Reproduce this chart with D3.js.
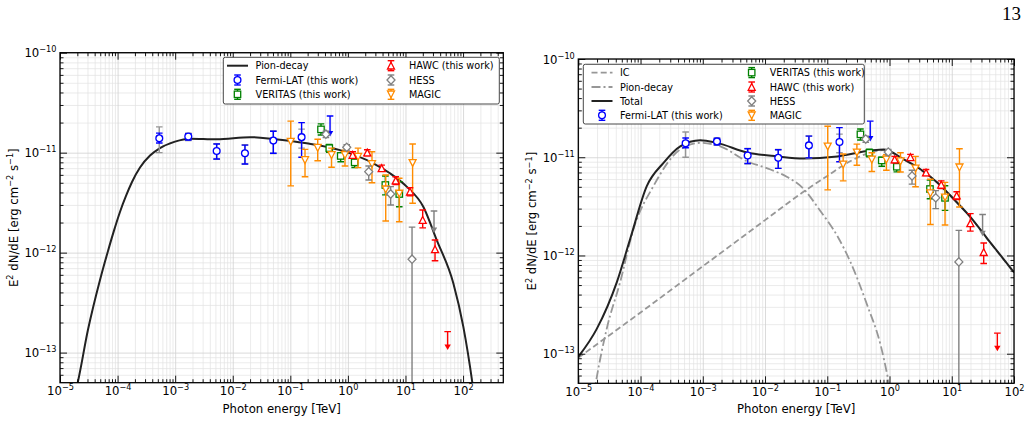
<!DOCTYPE html>
<html>
<head>
<meta charset="utf-8">
<script src="https://cdn.jsdelivr.net/npm/d3@7"></script>
<style>
  body { margin: 0; background: #fff; }
  svg text { font-family: "DejaVu Sans", sans-serif; fill: #000; }
</style>
</head>
<body>
<svg id="fig" width="1030" height="421"></svg>
<script>
// ---- data (E in TeV, E^2 dN/dE in erg cm^-2 s^-1) ----

var fermiE     = [5.3e-4, 1.69e-3, 5.26e-3, 1.63e-2, 5.07e-2, 0.157];
var fermiF     = [1.39e-11, 1.45e-11, 1.04e-11, 9.86e-12, 1.32e-11, 1.43e-11];
var fermiLo    = [1.25e-11, 1.34e-11, 8.65e-12, 7.7e-12, 9.86e-12, 9.0e-12];
var fermiHi    = [1.57e-11, 1.55e-11, 1.22e-11, 1.19e-11, 1.64e-11, 2.0e-11];
var fermiSysLo = [1.0e-11, 1.32e-11, 8.6e-12, 7.7e-12, 9.8e-12, 1.11e-11];
var fermiSysHi = [1.81e-11, 1.57e-11, 1.23e-11, 1.2e-11, 1.65e-11, 1.72e-11];
var fermiUlE   = [0.49];
var fermiUlF   = [2.33e-11];
var fermiUlTip = [1.45e-11];

var veritasE  = [0.341, 0.475, 0.75, 1.31, 4.47, 7.8];
var veritasF  = [1.71e-11, 1.11e-11, 9.27e-12, 8.0e-12, 4.75e-12, 3.86e-12];
var veritasLo = [1.50e-11, 1.01e-11, 8.1e-12, 7.1e-12, 3.78e-12, 2.88e-12];
var veritasHi = [1.94e-11, 1.21e-11, 1.0e-11, 8.8e-12, 5.85e-12, 5.13e-12];

var hawcE     = [1.21, 2.17, 3.86, 6.77, 12.0, 19.9, 32.6];
var hawcF     = [9.48e-12, 1.0e-11, 6.98e-12, 5.25e-12, 4.07e-12, 2.12e-12, 1.08e-12];
var hawcLo    = [8.8e-12, 9.3e-12, 6.5e-12, 4.8e-12, 3.7e-12, 1.77e-12, 8.3e-13];
var hawcHi    = [1.02e-11, 1.07e-11, 7.5e-12, 5.75e-12, 4.45e-12, 2.67e-12, 1.34e-12];
var hawcUlE   = [54];
var hawcUlF   = [1.62e-13];
var hawcUlTip = [1.06e-13];

var hessE     = [0.415, 0.955, 2.30, 5.53, 13.0];
var hessF     = [1.53e-11, 1.13e-11, 6.46e-12, 3.86e-12, 8.6e-13];
var hessLo    = [1.42e-11, 1.06e-11, 5.33e-12, 3.0e-12, 1e-15];
var hessHi    = [1.64e-11, 1.2e-11, 7.36e-12, 4.57e-12, 1.8e-12];
var hessUlE   = [31.3];
var hessUlF   = [2.61e-12];
var hessUlTip = [1.57e-12];

var magicE  = [0.1017, 0.18, 0.299, 0.52, 0.89, 1.50, 2.62, 4.54, 7.8, 13.3];
var magicF  = [1.29e-11, 8.45e-12, 1.12e-11, 9.48e-12, 9.48e-12, 9.1e-12, 7.7e-12, 4.3e-12, 3.9e-12, 7.9e-12];
var magicLo = [4.65e-12, 5.75e-12, 8.3e-12, 7.15e-12, 7.36e-12, 7.08e-12, 5.0e-12, 2.07e-12, 2.04e-12, 3.12e-12];
var magicHi = [2.07e-11, 1.08e-11, 1.36e-11, 1.11e-11, 1.06e-11, 1.11e-11, 1.02e-11, 5.98e-12, 5.55e-12, 1.22e-11];

// model curves
var pionLeftE = [1.5e-5, 2.03e-5, 3.06e-5, 4.95e-5, 6.82e-5, 8.66e-5, 1.10e-4, 1.40e-4, 1.78e-4, 2.45e-4, 3.66e-4, 5.45e-4, 9.94e-4, 1.81e-3, 5.26e-3, 2.0e-2, 5.06e-2, 0.192, 0.73, 2.76, 5.38, 10.5, 20.4, 34.8, 67.8, 101, 145, 170];
var pionLeftF = [2.6e-14, 5.01e-14, 1.69e-13, 5.33e-13, 1.04e-12, 1.66e-12, 2.55e-12, 3.69e-12, 5.09e-12, 7.10e-12, 9.35e-12, 1.11e-11, 1.29e-11, 1.38e-11, 1.36e-11, 1.43e-11, 1.37e-11, 1.24e-11, 1.06e-11, 7.83e-12, 6.22e-12, 4.57e-12, 2.88e-12, 1.34e-12, 4.94e-13, 1.82e-13, 5.0e-14, 2.5e-14];

var totalE = [1e-5, 1.98e-5, 4.15e-5, 6.81e-5, 1.26e-4, 2.34e-4, 4.34e-4, 9.1e-4, 1.69e-3, 5.13e-3, 1.57e-2, 4.2e-2, 0.145, 0.498, 0.815, 1.71, 3.18, 5.9, 10.9, 20.3, 37.7, 100];
var totalF = [9.29e-14, 1.79e-13, 5.33e-13, 1.47e-12, 5.08e-12, 8.77e-12, 1.29e-11, 1.49e-11, 1.40e-11, 1.12e-11, 1.02e-11, 9.7e-12, 1.02e-11, 1.17e-11, 1.20e-11, 9.48e-12, 7.5e-12, 5.5e-12, 3.72e-12, 2.43e-12, 1.47e-12, 6.75e-13];

var pionRightE = [1.6e-5, 1.93e-5, 2.86e-5, 4.69e-5, 7.69e-5, 1.61e-4, 4.34e-4, 9.1e-4, 1.91e-3, 5.15e-3, 1.22e-2, 2.27e-2, 3.98e-2, 7.8e-2, 0.145, 0.237, 0.441, 0.721, 0.925, 1.05];
var pionRightF = [2.5e-14, 5.25e-14, 1.79e-13, 5.33e-13, 1.85e-12, 5.08e-12, 1.20e-11, 1.40e-11, 1.29e-11, 9.1e-12, 7.5e-12, 6.3e-12, 4.9e-12, 2.82e-12, 1.58e-12, 8.5e-13, 3.09e-13, 1.22e-13, 6.0e-14, 4.0e-14];

var icE = [1e-5, 1e-4, 1e-3, 1e-2, 3.98e-2, 0.1, 0.251, 0.501, 0.815, 1.71, 3.18, 5.9, 10.9, 20.3, 37.7, 100];
var icF = [9.1e-14, 2.63e-13, 7.76e-13, 2.29e-12, 4.37e-12, 6.46e-12, 9.33e-12, 1.12e-11, 1.18e-11, 9.4e-12, 7.45e-12, 5.5e-12, 3.7e-12, 2.42e-12, 1.46e-12, 6.7e-13];

var yTickExp = [-13, -12, -11, -10];
var xTickExpLeft = [-5, -4, -3, -2, -1, 0, 1, 2];
var xTickExpRight = [-5, -4, -3, -2, -1, 0, 1, 2];

// ---- setup ----
var svg = d3.select('#fig');
var yMin = 5e-14, yMax = 1e-10;
var fontSize = 11.7;

var colors = {
  fermi: 'blue', veritas: 'green', hawc: 'red', hess: 'gray', magic: 'darkorange',
  model: '#222', grey: '#979797'
};

var zip = function(es, fs, lo, hi) {
  return es.map(function(e, i) {
    return {e: e, f: fs[i], lo: lo ? lo[i] : null, hi: hi ? hi[i] : null};
  });
};

var series = [
  {name: 'fermi', shape: 'circle', color: colors.fermi,
   pts: zip(fermiE, fermiF, fermiLo, fermiHi), sys: zip(fermiE, fermiF, fermiSysLo, fermiSysHi),
   ul: zip(fermiUlE, fermiUlF, fermiUlTip)},
  {name: 'veritas', shape: 'square', color: colors.veritas, pts: zip(veritasE, veritasF, veritasLo, veritasHi)},
  {name: 'magic', shape: 'tridown', color: colors.magic, pts: zip(magicE, magicF, magicLo, magicHi)},
  {name: 'hess', shape: 'diamond', color: colors.hess, pts: zip(hessE, hessF, hessLo, hessHi),
   ul: zip(hessUlE, hessUlF, hessUlTip)},
  {name: 'hawc', shape: 'triup', color: colors.hawc, pts: zip(hawcE, hawcF, hawcLo, hawcHi),
   ul: zip(hawcUlE, hawcUlF, hawcUlTip)}
];
var byName = {};
series.forEach(function(s) { byName[s.name] = s; });

// draw one marker centred on 0,0
var drawMarker = function(g, shape, color) {
  var m;
  if (shape === 'circle') {
    m = g.append('circle').attr('r', 3.4);
  } else if (shape === 'square') {
    m = g.append('rect').attr('x', -3.2).attr('y', -3.2).attr('width', 6.4).attr('height', 6.4);
  } else if (shape === 'triup') {
    m = g.append('path').attr('d', 'M0,-3.5L3.5,3.3L-3.5,3.3Z');
  } else if (shape === 'tridown') {
    m = g.append('path').attr('d', 'M0,3.5L3.5,-3.3L-3.5,-3.3Z');
  } else {
    m = g.append('path').attr('d', 'M0,-4.2L4,0L0,4.2L-4,0Z');
  }
  m.attr('fill', 'white').attr('stroke', color).attr('stroke-width', 1.3);
};

var errBar = function(g, x0, y0, y1, color, cap) {
  g.append('line').attr('x1', x0).attr('x2', x0).attr('y1', y0).attr('y2', y1)
    .attr('stroke', color).attr('stroke-width', 1.4);
  [y0, y1].forEach(function(yy) {
    g.append('line').attr('x1', x0 - cap).attr('x2', x0 + cap).attr('y1', yy).attr('y2', yy)
      .attr('stroke', color).attr('stroke-width', 1.4);
  });
};

// "10" with a superscript exponent
var powLabel = function(t, exp) {
  t.text(null);
  t.append('tspan').text('10');
  t.append('tspan').attr('dy', -5).attr('font-size', fontSize * 0.7)
    .text(String(exp).replace('-', '\u2212'));
};

var minorVals = function(lo, hi) {
  var out = [];
  for (var k = Math.floor(Math.log10(lo)); k <= Math.ceil(Math.log10(hi)); k++) {
    for (var m = 2; m <= 9; m++) {
      var v = m * Math.pow(10, k);
      if (v > lo * 1.0001 && v < hi * 0.9999) out.push(v);
    }
  }
  return out;
};

var makePanel = function(p) {
  var w = p.right - p.left, h = p.bottom - p.top;
  var g = svg.append('g').attr('transform', 'translate(' + p.left + ',' + p.top + ')');
  var x = d3.scaleLog().domain([1e-5, p.xMax]).range([0, w]);
  var y = d3.scaleLog().domain([yMin, yMax]).range([h, 0]);

  var xMaj = p.xExp.map(function(k) { return Math.pow(10, k); });
  var yMaj = yTickExp.map(function(k) { return Math.pow(10, k); });
  var xMin = minorVals(1e-5, p.xMax), yMinor = minorVals(yMin, yMax);

  // grid
  var grid = g.append('g');
  grid.append('g').attr('transform', 'translate(0,' + h + ')')
    .call(d3.axisBottom(x).tickValues(xMin).tickSize(-h).tickFormat(''))
    .call(function(a) { a.select('.domain').remove(); a.selectAll('line').attr('stroke', '#e3e3e3').attr('stroke-width', 0.7); });
  grid.append('g')
    .call(d3.axisLeft(y).tickValues(yMinor).tickSize(-w).tickFormat(''))
    .call(function(a) { a.select('.domain').remove(); a.selectAll('line').attr('stroke', '#e3e3e3').attr('stroke-width', 0.7); });
  grid.append('g').attr('transform', 'translate(0,' + h + ')')
    .call(d3.axisBottom(x).tickValues(xMaj).tickSize(-h).tickFormat(''))
    .call(function(a) { a.select('.domain').remove(); a.selectAll('line').attr('stroke', '#d0d0d0').attr('stroke-width', 0.8); });
  grid.append('g')
    .call(d3.axisLeft(y).tickValues(yMaj).tickSize(-w).tickFormat(''))
    .call(function(a) { a.select('.domain').remove(); a.selectAll('line').attr('stroke', '#d0d0d0').attr('stroke-width', 0.8); });

  // clip
  var clipId = 'clip' + p.id;
  g.append('clipPath').attr('id', clipId).append('rect').attr('width', w).attr('height', h);
  var plot = g.append('g').attr('clip-path', 'url(#' + clipId + ')');

  // curves
  var line = d3.line().x(function(d) { return x(d.e); }).y(function(d) { return y(d.f); })
    .curve(d3.curveMonotoneX);
  p.curves.forEach(function(c) {
    plot.append('path').datum(zip(c.e, c.f))
      .attr('d', line).attr('fill', 'none')
      .attr('stroke', c.color).attr('stroke-width', c.width)
      .attr('stroke-dasharray', c.dash || null);
  });

  // points
  series.forEach(function(s) {
    if (s.sys) {
      s.sys.forEach(function(d) { errBar(plot, x(d.e), y(d.lo), y(d.hi), colors.grey, 3.3); });
    }
    s.pts.forEach(function(d) { errBar(plot, x(d.e), y(d.lo), y(d.hi), s.color, 3.3); });
    (s.ul || []).forEach(function(d) {
      var xx = x(d.e), y0 = y(d.f), y1 = y(d.lo);
      plot.append('line').attr('x1', xx - 3.3).attr('x2', xx + 3.3).attr('y1', y0).attr('y2', y0)
        .attr('stroke', s.color).attr('stroke-width', 1.4);
      plot.append('line').attr('x1', xx).attr('x2', xx).attr('y1', y0).attr('y2', y1 - 3)
        .attr('stroke', s.color).attr('stroke-width', 1.4);
      plot.append('path').attr('d', 'M' + (xx - 3.2) + ',' + (y1 - 5.5) + 'L' + (xx + 3.2) + ',' + (y1 - 5.5) + 'L' + xx + ',' + y1 + 'Z')
        .attr('fill', s.color);
    });
    s.pts.forEach(function(d) {
      var mg = plot.append('g').attr('transform', 'translate(' + x(d.e) + ',' + y(d.f) + ')');
      drawMarker(mg, s.shape, s.color);
    });
  });

  // ticks, inward on all four sides
  var styleTicks = function(a) {
    a.select('.domain').remove();
    a.selectAll('line').attr('stroke', '#000').attr('stroke-width', 0.9);
  };
  var bottom = g.append('g').attr('transform', 'translate(0,' + h + ')');
  bottom.append('g').call(d3.axisBottom(x).tickValues(xMin).tickSize(-3.5).tickFormat('')).call(styleTicks);
  bottom.append('g').call(d3.axisBottom(x).tickValues(xMaj).tickSize(-7).tickPadding(12)
      .tickFormat(function(d) { return Math.round(Math.log10(d)); }))
    .call(styleTicks)
    .call(function(a) {
      a.selectAll('text').attr('font-size', fontSize).attr('fill', '#000').attr('y', 12.5).attr('dy', 0)
        .each(function(d) { powLabel(d3.select(this), Math.round(Math.log10(d))); });
    });
  var top = g.append('g');
  top.append('g').call(d3.axisTop(x).tickValues(xMin).tickSize(-3.5).tickFormat('')).call(styleTicks);
  top.append('g').call(d3.axisTop(x).tickValues(xMaj).tickSize(-7).tickFormat('')).call(styleTicks);

  var left = g.append('g');
  left.append('g').call(d3.axisLeft(y).tickValues(yMinor).tickSize(-3.5).tickFormat('')).call(styleTicks);
  left.append('g').call(d3.axisLeft(y).tickValues(yMaj).tickSize(-7).tickPadding(3.5)
      .tickFormat(function(d) { return Math.round(Math.log10(d)); }))
    .call(styleTicks)
    .call(function(a) {
      a.selectAll('text').attr('font-size', fontSize).attr('fill', '#000').attr('x', -3.5).attr('dy', '0.36em')
        .each(function(d) { powLabel(d3.select(this), Math.round(Math.log10(d))); });
    });
  var right = g.append('g').attr('transform', 'translate(' + w + ',0)');
  right.append('g').call(d3.axisRight(y).tickValues(yMinor).tickSize(-3.5).tickFormat('')).call(styleTicks);
  right.append('g').call(d3.axisRight(y).tickValues(yMaj).tickSize(-7).tickFormat('')).call(styleTicks);

  // frame
  g.append('rect').attr('width', w).attr('height', h)
    .attr('fill', 'none').attr('stroke', '#000').attr('stroke-width', 1.3);

  // axis titles
  g.append('text').attr('x', w / 2).attr('y', h + 30).attr('text-anchor', 'middle')
    .attr('font-size', fontSize).text('Photon energy [TeV]');
  var yl = g.append('text').attr('transform', 'translate(' + p.yLabelX + ',' + (h / 2) + ') rotate(-90)')
    .attr('text-anchor', 'middle').attr('font-size', fontSize);
  var parts = [['E', 0], ['2', 1], [' dN/dE [erg cm', 0], ['\u22122', 1], [' s', 0], ['\u22121', 1], [']', 0]];
  var lift = 0;
  parts.forEach(function(pt) {
    var target = pt[1] ? -4.5 : 0;
    yl.append('tspan').attr('dy', target - lift).attr('font-size', pt[1] ? fontSize * 0.7 : fontSize).text(pt[0]);
    lift = target;
  });

  // legend
  var lg = g.append('g').attr('transform', 'translate(' + p.legend.x + ',' + p.legend.y + ')');
  lg.append('rect').attr('width', p.legend.w).attr('height', p.legend.h).attr('rx', 2)
    .attr('fill', 'white').attr('stroke', '#333').attr('stroke-width', 0.9);
  p.legend.items.forEach(function(it) {
    var ig = lg.append('g').attr('transform', 'translate(' + it.x + ',' + it.y + ')');
    if (it.curve) {
      ig.append('line').attr('x1', -10.5).attr('x2', 10.5).attr('y1', 0).attr('y2', 0)
        .attr('stroke', it.curve.color).attr('stroke-width', it.curve.width)
        .attr('stroke-dasharray', it.curve.dash || null);
    } else {
      var s = byName[it.series];
      errBar(ig, 0, -5, 5, s.color, 3.3);
      drawMarker(ig, s.shape, s.color);
    }
    ig.append('text').attr('x', 18).attr('dy', '0.36em').attr('font-size', 9.7).text(it.label);
  });
};

// ---- panels ----
var pionLeftCurve = {e: pionLeftE, f: pionLeftF, color: colors.model, width: 2};
var totalCurve = {e: totalE, f: totalF, color: colors.model, width: 2};
var pionRightCurve = {e: pionRightE, f: pionRightF, color: colors.grey, width: 1.8, dash: '9,3,2,3'};
var icCurve = {e: icE, f: icF, color: colors.grey, width: 1.8, dash: '6,3.2'};

makePanel({
  id: 'L', left: 60, top: 52.7, right: 503.3, bottom: 382.7, xMax: 500, xExp: xTickExpLeft,
  yLabelX: -42.5,
  curves: [pionLeftCurve],
  legend: {x: 163.3, y: 4.6, w: 276, h: 46.7, items: [
    {x: 14.2, y: 8.4, curve: pionLeftCurve, label: 'Pion-decay'},
    {x: 14.2, y: 22.7, series: 'fermi', label: 'Fermi-LAT (this work)'},
    {x: 14.2, y: 37, series: 'veritas', label: 'VERITAS (this work)'},
    {x: 167.7, y: 8.4, series: 'hawc', label: 'HAWC (this work)'},
    {x: 167.7, y: 22.7, series: 'hess', label: 'HESS'},
    {x: 167.7, y: 37, series: 'magic', label: 'MAGIC'}
  ]}
});

makePanel({
  id: 'R', left: 578.3, top: 59, right: 1014, bottom: 383.3, xMax: 100, xExp: xTickExpRight,
  yLabelX: -42,
  curves: [icCurve, pionRightCurve, totalCurve],
  legend: {x: 5, y: 5.3, w: 281, h: 59.7, items: [
    {x: 18.7, y: 8.3, curve: icCurve, label: 'IC'},
    {x: 18.7, y: 22.7, curve: pionRightCurve, label: 'Pion-decay'},
    {x: 18.7, y: 36.7, curve: totalCurve, label: 'Total'},
    {x: 18.7, y: 51, series: 'fermi', label: 'Fermi-LAT (this work)'},
    {x: 168.4, y: 8.3, series: 'veritas', label: 'VERITAS (this work)'},
    {x: 168.4, y: 22.7, series: 'hawc', label: 'HAWC (this work)'},
    {x: 168.4, y: 36.7, series: 'hess', label: 'HESS'},
    {x: 168.4, y: 51, series: 'magic', label: 'MAGIC'}
  ]}
});

// page number
svg.append('text').attr('x', 1021).attr('y', 20).attr('text-anchor', 'end')
  .style('font-family', '"Liberation Serif", serif').attr('font-size', 19).text('13');
</script>
</body>
</html>
